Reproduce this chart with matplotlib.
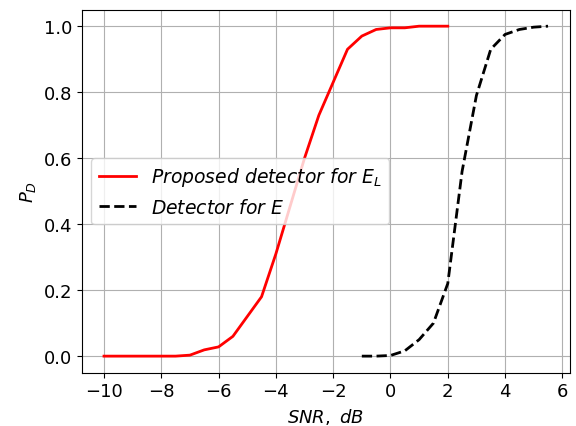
import matplotlib
matplotlib.use("Agg")
import matplotlib.pyplot as plt

snr_prop = [-10, -9.5, -9, -8.5, -8, -7.5, -7, -6.5, -6, -5.5, -5, -4.5, -4, -3.5,
            -3, -2.5, -2, -1.5, -1, -0.5, 0, 0.5, 1, 1.5, 2]
pd_prop = [0, 0, 0, 0, 0, 0, 0.003, 0.019, 0.028, 0.06, 0.12, 0.18, 0.31, 0.455,
           0.6, 0.73, 0.83, 0.93, 0.97, 0.99, 0.995, 0.995, 1.0, 1.0, 1.0]

snr_e = [-1, -0.5, 0, 0.5, 1, 1.5, 2, 2.5, 3, 3.5, 4, 4.5, 5, 5.5]
pd_e = [0, 0, 0.002, 0.016, 0.05, 0.10, 0.22, 0.56, 0.79, 0.93, 0.975, 0.99, 0.997, 1.0]

fig = plt.figure(figsize=(5.76, 4.27), dpi=100)
ax = fig.add_axes([0.142, 0.125, 0.848, 0.85])
ax.plot(snr_prop, pd_prop, "r-", lw=2, label="$Proposed\\ detector\\ for\\ E_L$")
ax.plot(snr_e, pd_e, "k--", lw=2, label="$Detector\\ for\\ E$")
ax.grid(True)
ax.set_xticks([-10, -8, -6, -4, -2, 0, 2, 4, 6])
ax.tick_params(labelsize=13)
ax.set_xlabel("$SNR,\\ dB$", fontsize=13)
ax.set_ylabel("$P_D$", fontsize=13)
ax.legend(loc="center left", fontsize=13.5)
fig.savefig("out.png")
